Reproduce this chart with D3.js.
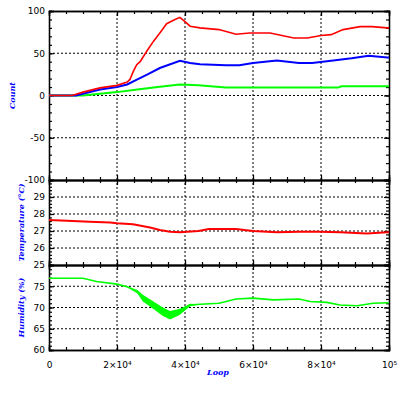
<!DOCTYPE html>
<html>
<head>
<meta charset="utf-8">
<script src="https://cdn.jsdelivr.net/npm/d3@7"></script>
<style>
  body { margin: 0; background: #fff; }
  svg { display: block; }
  .tick text { font-family: 'DejaVu Sans', sans-serif; font-size: 9px; fill: #000; }
  .ttl { font-family: 'DejaVu Serif', serif; font-style: italic; font-weight: bold; font-size: 8px; fill: #0000ff; }
</style>
</head>
<body>
<div id="chart"></div>
<script>
// count panel
const redLoop = [0, 6800, 10000, 15000, 20000, 23000, 23800, 24800, 25800, 26800, 28700, 30700, 32600, 34600, 36600, 38500, 40000, 41500, 44400, 50000, 55000, 59000, 65000, 72000, 76000, 80000, 83000, 86500, 91500, 95000, 99500, 100000];
const redCount = [0, 0, 4, 9, 12, 16, 19, 28.6, 36.5, 40, 52, 64, 74, 85, 89, 92.5, 87.5, 82, 80, 78, 72.5, 74, 74, 68, 68, 71, 72, 78, 81.5, 81.5, 80, 80];

const blueLoop = [0, 8000, 10000, 15000, 20000, 23000, 26000, 29000, 32600, 38500, 41500, 44400, 52000, 56000, 60000, 67000, 73500, 77400, 83000, 89000, 94000, 99500, 100000];
const blueCount = [0, 0, 2, 7, 10, 13, 19, 25, 32.5, 41, 38.5, 37, 35.7, 35.7, 38.5, 41.5, 38.5, 38.5, 41, 44, 47, 45, 45];

const greenLoop = [0, 10000, 15000, 20000, 26000, 32000, 38500, 44000, 52000, 85000, 86000, 100000];
const greenCount = [0, 0, 2, 4, 7, 10, 13, 12, 9.4, 9.4, 11, 11];

// temperature panel
const tempLoop = [0, 5200, 12000, 18000, 20000, 24700, 29700, 32600, 35600, 38500, 44000, 47000, 55000, 60000, 67000, 73500, 79700, 85600, 93500, 99500, 100000];
const tempVal = [27.65, 27.6, 27.55, 27.5, 27.45, 27.4, 27.2, 27.06, 26.96, 26.92, 27.0, 27.12, 27.12, 27.0, 26.92, 26.96, 26.96, 26.92, 26.86, 26.92, 26.92];

// humidity panel
const humLoop = [0, 10000, 14000, 20000, 23000, 26000, 27600, 30600, 33500, 35600, 38500, 41500, 44400, 50000, 55000, 60000, 66000, 73500, 76800, 81700, 85600, 90600, 95300, 100000];
const humVal = [76.9, 76.9, 76.1, 75.5, 74.9, 73.7, 72.2, 70.6, 69.0, 68.2, 69.0, 70.6, 70.75, 71.0, 72.0, 72.2, 71.8, 72.0, 71.4, 71.2, 70.6, 70.4, 71.0, 71.1];
const humSpread = [0, 0, 0, 0, 0.1, 0.4, 0.8, 0.9, 1.0, 1.0, 0.7, 0.3, 0, 0, 0, 0, 0, 0, 0, 0, 0, 0, 0, 0];

const xTicks = [0, 20000, 40000, 60000, 80000, 100000];
const xTickLabels = ['0', '2×10⁴', '4×10⁴', '6×10⁴', '8×10⁴', '10⁵'];

const width = 399, height = 399;
const left = 49, right = 389;

const svg = d3.select('#chart').append('svg')
  .attr('width', width)
  .attr('height', height);

const x = d3.scaleLinear().domain([0, 100000]).range([left, right]);

const panels = [
  { domain: [-100, 100], range: [180, 11], major: [-100, -50, 0, 50, 100], minor: 10, grid: [-50, 0, 50], labels: [-100, -50, 0, 50, 100], title: 'Count', tx: 15 },
  { domain: [25, 30], range: [265, 180], major: [25, 26, 27, 28, 29, 30], minor: 0.2, grid: [26, 27, 28, 29], labels: [25, 26, 27, 28, 29], title: 'Temperature (°C)', tx: 24 },
  { domain: [60, 80], range: [350, 265], major: [60, 65, 70, 75, 80], minor: 1, grid: [65, 70, 75], labels: [60, 65, 70, 75], title: 'Humidity (%)', tx: 24 },
];

const xMinor = d3.range(0, 100001, 5000);

panels.forEach((p, i) => {
  const y = d3.scaleLinear().domain(p.domain).range(p.range);
  p.y = y;
  const g = svg.append('g');
  const yMinor = d3.range(p.domain[0], p.domain[1] + p.minor / 2, p.minor).map((v) => +v.toFixed(3));

  // grid
  g.selectAll('.hg').data(p.grid).enter().append('line')
    .attr('x1', left).attr('x2', right)
    .attr('y1', (d) => y(d)).attr('y2', (d) => y(d))
    .attr('stroke', '#000').attr('stroke-dasharray', '2,2');
  g.selectAll('.vg').data(xTicks.slice(1, -1)).enter().append('line')
    .attr('x1', (d) => x(d)).attr('x2', (d) => x(d))
    .attr('y1', p.range[0]).attr('y2', p.range[1])
    .attr('stroke', '#000').attr('stroke-dasharray', '2,2');

  const axis = (gen, tr) => g.append('g').attr('transform', tr).call(gen)
    .call((s) => s.select('.domain').attr('stroke-width', 1.3));

  // y axes, left and right, minor then major
  axis(d3.axisLeft(y).tickValues(yMinor).tickSize(-3).tickFormat(''), `translate(${left},0)`);
  axis(d3.axisRight(y).tickValues(yMinor).tickSize(-3).tickFormat(''), `translate(${right},0)`);
  axis(d3.axisLeft(y).tickValues(p.major).tickSize(-5).tickPadding(4)
    .tickFormat((d) => (p.labels.includes(d) ? d : '')), `translate(${left},0)`);
  axis(d3.axisRight(y).tickValues(p.major).tickSize(-5).tickFormat(''), `translate(${right},0)`);

  // x axes, top and bottom
  axis(d3.axisTop(x).tickValues(xMinor).tickSize(-3).tickFormat(''), `translate(0,${p.range[1]})`);
  axis(d3.axisTop(x).tickValues(xTicks).tickSize(-5).tickFormat(''), `translate(0,${p.range[1]})`);
  axis(d3.axisBottom(x).tickValues(xMinor).tickSize(-3).tickFormat(''), `translate(0,${p.range[0]})`);
  const last = i === panels.length - 1;
  axis(d3.axisBottom(x).tickValues(xTicks).tickSize(-5).tickPadding(last ? 12 : 0)
    .tickFormat((d, j) => (last ? xTickLabels[j] : '')), `translate(0,${p.range[0]})`);

  svg.append('text')
    .attr('class', 'ttl')
    .attr('text-anchor', 'middle')
    .attr('transform', `translate(${p.tx},${(p.range[0] + p.range[1]) / 2}) rotate(-90)`)
    .text(p.title);
});

svg.selectAll('.tick line').attr('stroke-width', 1.2);

const plotLine = (xs, ys, yScale, color, w) => {
  const pts = xs.map((d, i) => [d, ys[i]]);
  svg.append('path')
    .datum(pts)
    .attr('fill', 'none')
    .attr('stroke', color)
    .attr('stroke-width', w)
    .attr('d', d3.line().x((d) => x(d[0])).y((d) => yScale(d[1])));
};

const cy = panels[0].y, ty = panels[1].y, hy = panels[2].y;

plotLine(greenLoop, greenCount, cy, '#00ff00', 2);
plotLine(blueLoop, blueCount, cy, '#0000ff', 2);
plotLine(redLoop, redCount, cy, '#ff0000', 1.6);
plotLine(tempLoop, tempVal, ty, '#ff0000', 2);

// humidity noise band
svg.append('path')
  .datum(humLoop.map((d, i) => [d, humVal[i], humSpread[i]]))
  .attr('fill', '#00ff00')
  .attr('d', d3.area().x((d) => x(d[0])).y0((d) => hy(d[1] - d[2])).y1((d) => hy(d[1] + d[2])));
plotLine(humLoop, humVal, hy, '#00ff00', 1.6);

svg.append('text')
  .attr('class', 'ttl')
  .attr('x', 218)
  .attr('y', 375)
  .attr('text-anchor', 'middle')
  .text('Loop');
</script>
</body>
</html>
